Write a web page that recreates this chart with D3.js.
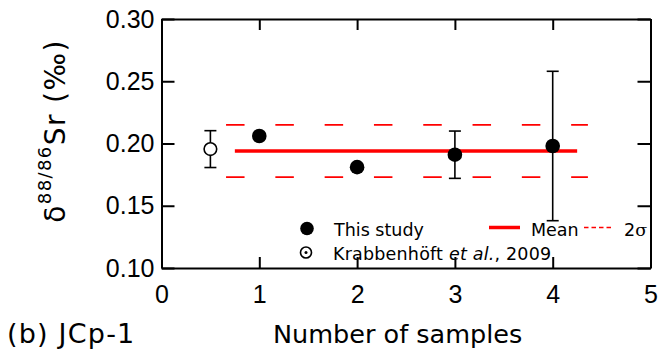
<!DOCTYPE html>
<html>
<head>
<meta charset="utf-8">
<script src="https://cdn.jsdelivr.net/npm/d3@7"></script>
<style>
  body { margin: 0; background: #fff; }
  svg { display: block; font-family: "DejaVu Sans", sans-serif; }
  .axis path, .axis line { stroke: #000; stroke-width: 2; }
  .axis text { font-size: 25px; fill: #000; }
</style>
</head>
<body>
<svg width="660" height="358"></svg>
<script>
// this study: sample number, delta value, 2sd error (0 = no bar drawn)
const sampleX = [1, 2, 3, 4];
const sampleY = [0.206, 0.181, 0.191, 0.198];
const sampleErr = [0, 0, 0.019, 0.060];

// Krabbenhoft et al., 2009
const refX = [0.5];
const refY = [0.1955];
const refErr = [0.0148];

// mean and 2 sigma band
const meanVal = 0.194;
const sigma2 = 0.021;
const meanRange = [0.75, 4.25];
const sigmaRange = [0.66, 4.36];

const xTicks = [0, 1, 2, 3, 4, 5];
const yTicks = [0.10, 0.15, 0.20, 0.25, 0.30];

let svg = d3.select("svg");
let plotLeft = 161.5, plotRight = 650.5, plotTop = 19, plotBottom = 268;

let x = d3.scaleLinear().domain([0, 5]).range([plotLeft, plotRight]);
let y = d3.scaleLinear().domain([0.1, 0.3]).range([plotBottom, plotTop]);

// axes (ticks point inward, box all round)
svg.append("g")
  .attr("class", "axis")
  .attr("transform", "translate(0," + plotBottom + ")")
  .call(d3.axisBottom(x).tickValues(xTicks).tickSizeInner(-11).tickSizeOuter(0).tickPadding(17).tickFormat(d3.format("d")));
svg.append("g")
  .attr("class", "axis")
  .attr("transform", "translate(0," + plotTop + ")")
  .call(d3.axisTop(x).tickValues(xTicks).tickSizeInner(-11).tickSizeOuter(0).tickFormat(""));
svg.append("g")
  .attr("class", "axis")
  .attr("transform", "translate(" + plotLeft + ",0)")
  .call(d3.axisLeft(y).tickValues(yTicks).tickSizeInner(-13).tickSizeOuter(0).tickPadding(7).tickFormat(d3.format(".2f")));
svg.append("g")
  .attr("class", "axis")
  .attr("transform", "translate(" + plotRight + ",0)")
  .call(d3.axisRight(y).tickValues(yTicks).tickSizeInner(-13).tickSizeOuter(0).tickFormat(""));

// 2 sigma dashed lines
[meanVal + sigma2, meanVal - sigma2].forEach(function(v) {
  svg.append("line")
    .attr("x1", x(sigmaRange[0])).attr("x2", x(sigmaRange[1]))
    .attr("y1", y(v)).attr("y2", y(v))
    .attr("stroke", "#ff0000").attr("stroke-width", 1.6)
    .attr("stroke-dasharray", "18.5,30.8");
});

// mean line
svg.append("line")
  .attr("x1", x(meanRange[0])).attr("x2", x(meanRange[1]))
  .attr("y1", y(meanVal)).attr("y2", y(meanVal))
  .attr("stroke", "#ff0000").attr("stroke-width", 3.5);

function errorBars(xs, ys, es) {
  xs.forEach(function(xv, i) {
    if (!es[i]) return;
    let g = svg.append("g").attr("stroke", "#000").attr("stroke-width", 1.6);
    g.append("line")
      .attr("x1", x(xv)).attr("x2", x(xv))
      .attr("y1", y(ys[i] + es[i])).attr("y2", y(ys[i] - es[i]));
    [ys[i] + es[i], ys[i] - es[i]].forEach(function(v) {
      g.append("line")
        .attr("x1", x(xv) - 6).attr("x2", x(xv) + 6)
        .attr("y1", y(v)).attr("y2", y(v));
    });
  });
}
errorBars(refX, refY, refErr);
errorBars(sampleX, sampleY, sampleErr);

// points
svg.selectAll(".ref")
  .data(refX)
  .enter()
  .append("circle")
  .attr("class", "ref")
  .attr("cx", function(d) { return x(d); })
  .attr("cy", function(d, i) { return y(refY[i]); })
  .attr("r", 6.3)
  .attr("fill", "#fff")
  .attr("stroke", "#000")
  .attr("stroke-width", 1.6);

svg.selectAll(".pt")
  .data(sampleX)
  .enter()
  .append("circle")
  .attr("class", "pt")
  .attr("cx", function(d) { return x(d); })
  .attr("cy", function(d, i) { return y(sampleY[i]); })
  .attr("r", 7.3)
  .attr("fill", "#000");

// legend
let leg = svg.append("g").style("font-size", "17.5px");
leg.append("circle").attr("cx", 307).attr("cy", 228.5).attr("r", 6.8).attr("fill", "#000");
leg.append("text").attr("x", 334).attr("y", 236).text("This study");
leg.append("circle").attr("cx", 306).attr("cy", 252.5).attr("r", 5.5)
  .attr("fill", "none").attr("stroke", "#000").attr("stroke-width", 1.6);
leg.append("circle").attr("cx", 306).attr("cy", 252.5).attr("r", 1.5).attr("fill", "#000");
let kt = leg.append("text").attr("x", 333).attr("y", 260).style("letter-spacing", "0.2px");
kt.append("tspan").text("Krabbenhöft ");
kt.append("tspan").attr("font-style", "italic").text("et al.");
kt.append("tspan").text(", 2009");

leg.append("line").attr("x1", 489).attr("x2", 520).attr("y1", 227.5).attr("y2", 227.5)
  .attr("stroke", "#ff0000").attr("stroke-width", 3.5);
leg.append("text").attr("x", 531).attr("y", 236).text("Mean");
leg.append("line").attr("x1", 584).attr("x2", 611).attr("y1", 227.5).attr("y2", 227.5)
  .attr("stroke", "#ff0000").attr("stroke-width", 1.6).attr("stroke-dasharray", "4.5,3");
let st = leg.append("text").attr("x", 624).attr("y", 236);
st.append("tspan").text("2");
st.append("tspan").attr("font-family", "'DejaVu Serif', serif").text("σ");

// axis titles
svg.append("text")
  .attr("x", 273).attr("y", 343)
  .style("font-size", "25.5px")
  .text("Number of samples");
svg.append("text")
  .attr("x", 7).attr("y", 343)
  .style("font-size", "27px")
  .style("letter-spacing", "1.2px")
  .text("(b) JCp-1");

let yl = svg.append("text")
  .attr("transform", "translate(65,131) rotate(-90)")
  .attr("text-anchor", "middle")
  .style("font-size", "28px")
  .style("letter-spacing", "1.4px");
yl.append("tspan").text("δ");
yl.append("tspan").attr("dy", -14).style("font-size", "18px").text("88/86");
yl.append("tspan").attr("dy", 14).text("Sr (‰)");
</script>
</body>
</html>
